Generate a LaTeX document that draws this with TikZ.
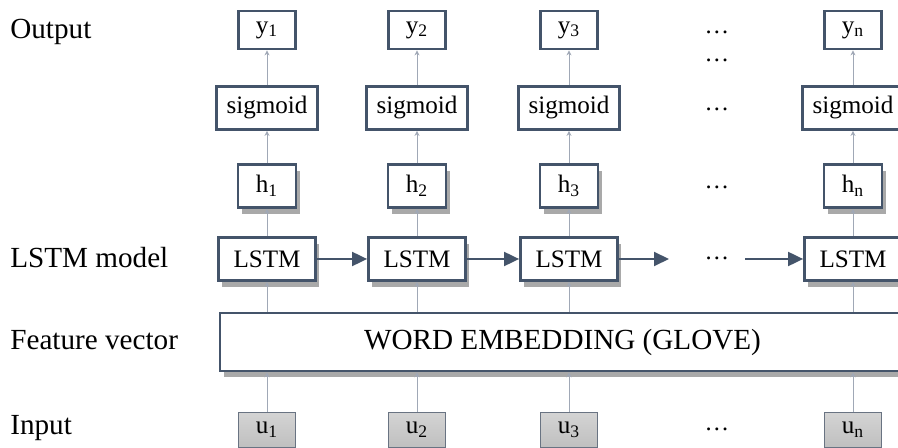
\documentclass[tikz,border=0pt]{standalone}
\usepackage{fontspec}
\setmainfont{Liberation Serif}
\usepackage{tikz}
\usetikzlibrary{positioning,arrows.meta,shadows,calc}
\definecolor{cEdge}{RGB}{68,84,106}
\definecolor{cLink}{RGB}{160,168,182}
\definecolor{cIn}{RGB}{105,115,130}

\begin{document}
\begin{tikzpicture}[x=0.02cm,y=-0.02cm,
   box/.style={draw=cEdge,line width=1.6pt,fill=white,inner sep=1pt,font=\fontsize{14.3}{16}\selectfont},
   shd/.style={drop shadow={shadow xshift=2pt,shadow yshift=-3.5pt,opacity=.45,fill=black!75}},
   ybox/.style={box,minimum width=1.14cm,minimum height=0.76cm},
   sigbox/.style={box,minimum width=2.02cm,minimum height=0.86cm},
   hbox/.style={box,shd,minimum width=1.16cm,minimum height=0.86cm},
   lstmbox/.style={box,shd,minimum width=1.94cm,minimum height=0.86cm},
   embbox/.style={box,shd,minimum width=13.7cm,minimum height=1.16cm,font=\fontsize{16.6}{18}\selectfont},
   ubox/.style={draw=cIn,line width=0.6pt,top color=black!17,bottom color=black!25,
                minimum width=1.14cm,minimum height=0.7cm,inner sep=1pt,font=\fontsize{14.3}{16}\selectfont},
   lbl/.style={anchor=west,inner sep=0pt,font=\fontsize{16.6}{18}\selectfont},
   dotsnode/.style={inner sep=0pt,font=\fontsize{14}{16}\selectfont},
   link/.style={draw=cLink,line width=0.5pt,-{Stealth[length=1mm,width=1mm]}},
   rec/.style={draw=cEdge,line width=1.1pt,-{Triangle[length=3mm,width=2.8mm]}}]
  \useasboundingbox (0,0) rectangle (898,448);
  % row labels
  \node[lbl] (lout) at (10,32) {Output};
  \node[lbl] (llstm) at (10,258) {LSTM model};
  \node[lbl] (lfeat) at (10,340) {Feature vector};
  \node[lbl] (lin) at (10,428) {Input};
  % shared embedding layer
  \node[embbox] (emb) at (562.5,342) {WORD EMBEDDING (GLOVE)};
  % one column per time step
  \foreach \i/\x in {1/267,2/417,3/569,n/853}{
    \node[ybox] (y\i) at (\x,30) {y\textsubscript{\i}};
    \node[sigbox] (s\i) at (\x,108) {sigmoid};
    \node[hbox] (h\i) at (\x,186) {h\textsubscript{\i}};
    \node[lstmbox] (l\i) at (\x,259) {LSTM};
    \node[ubox] (u\i) at (\x,430) {u\textsubscript{\i}};
    \draw[link] (u\i) -- (u\i |- emb.south);
    \draw[link] (l\i |- emb.north) -- (l\i);
    \draw[link] (l\i) -- (h\i);
    \draw[link] (h\i) -- (s\i);
    \draw[link] (s\i) -- (y\i);
  }
  % dots column
  \node[dotsnode] (dy) at (717,32) {\dots};
  \node[dotsnode] (dy2) at (717,60) {\dots};
  \node[dotsnode] (ds) at (717,109) {\dots};
  \node[dotsnode] (dh) at (717,187) {\dots};
  \node[dotsnode] (dl) at (717,258) {\dots};
  \node[dotsnode] (du) at (717,429) {\dots};
  \coordinate (r3) at (669,259);
  \coordinate (rn) at (745,259);
  \draw[rec] (l1) -- (l2);
  \draw[rec] (l2) -- (l3);
  \draw[rec] (l3) -- (r3);
  \draw[rec] (rn) -- (ln);
\end{tikzpicture}
\end{document}
